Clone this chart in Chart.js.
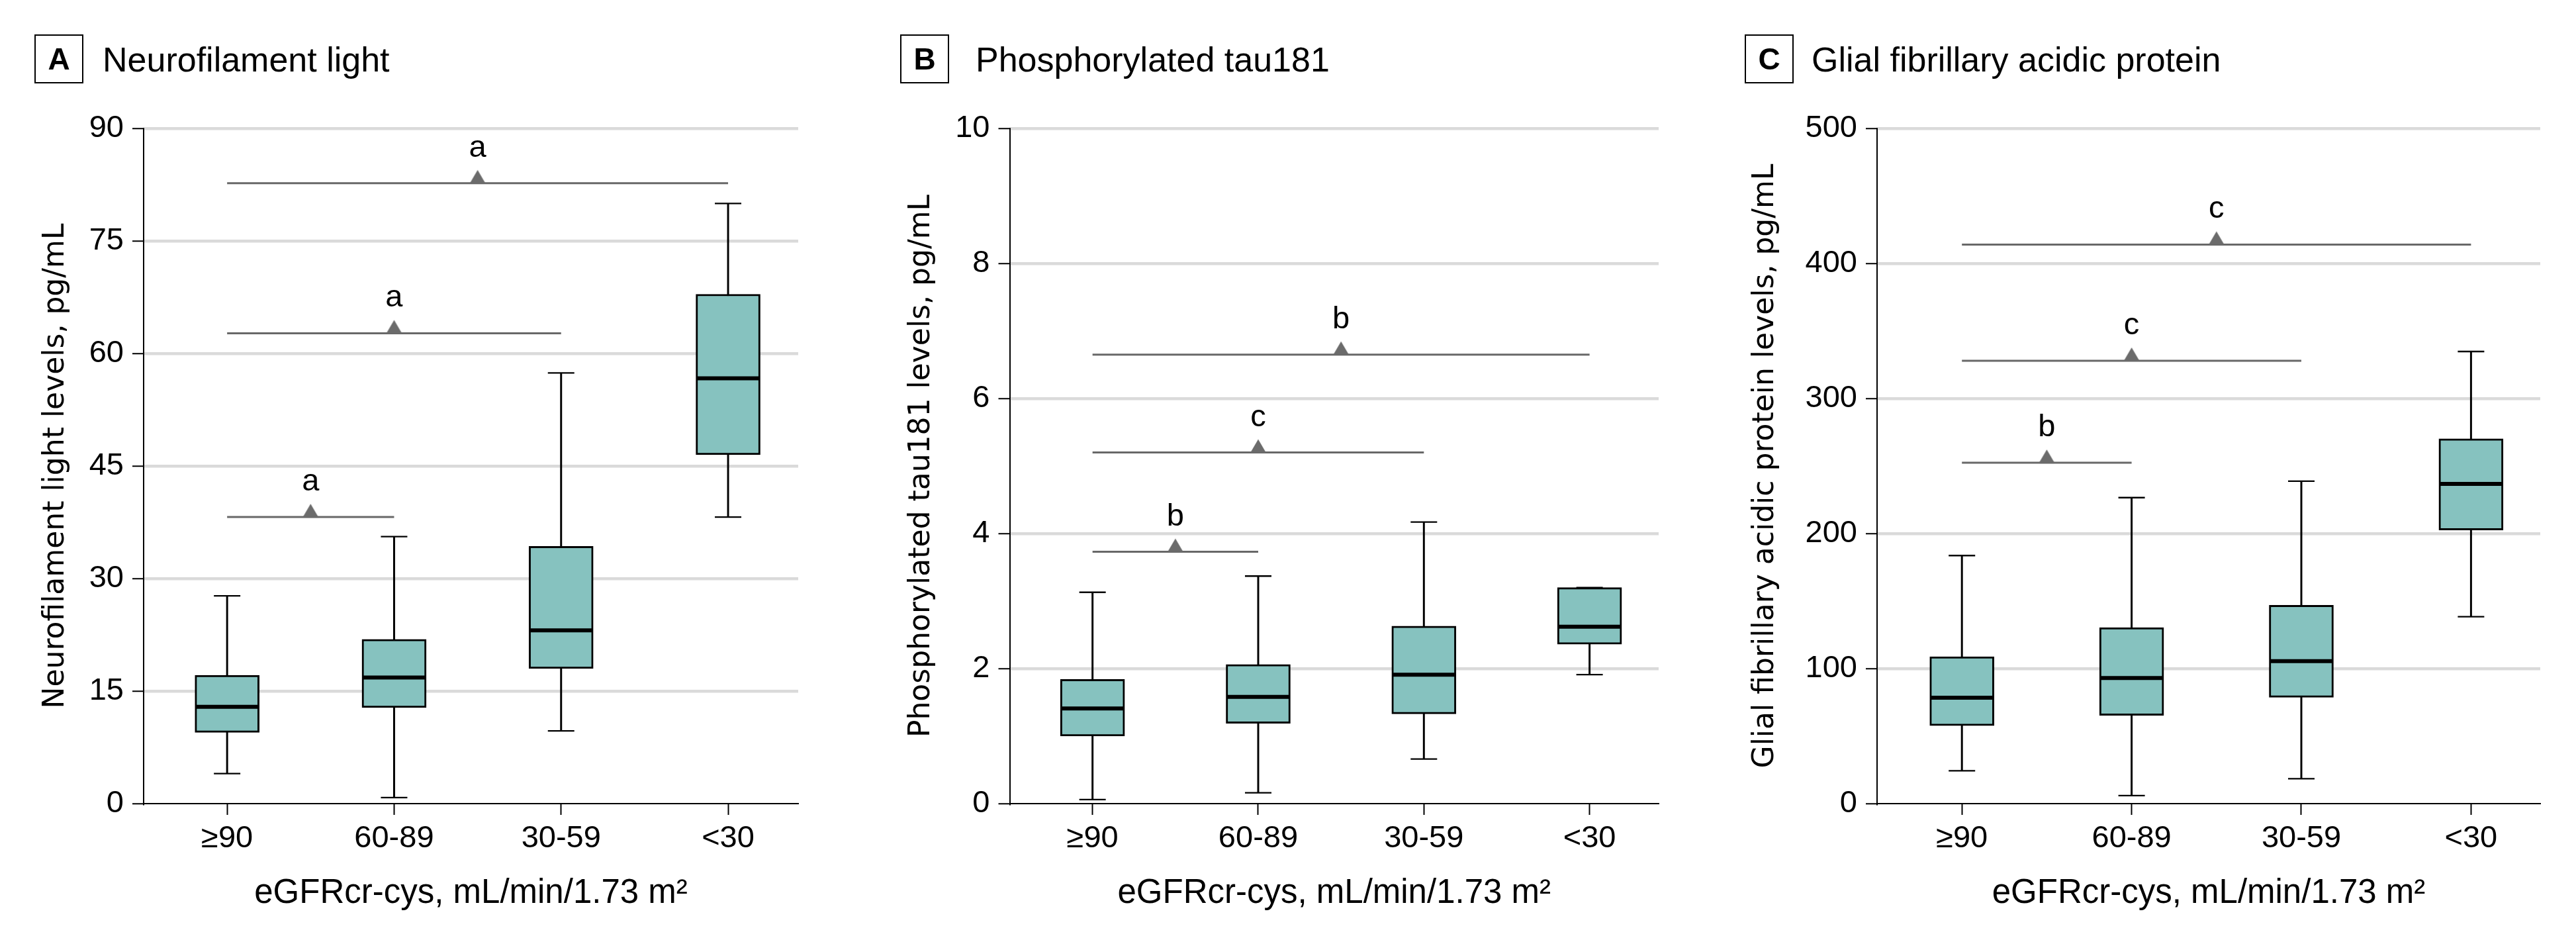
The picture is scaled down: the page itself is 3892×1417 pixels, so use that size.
<!DOCTYPE html>
<html>
<head>
<meta charset="utf-8">
<script src="https://cdn.jsdelivr.net/npm/chart.js@4.4.1/dist/chart.umd.min.js"></script>
<style>
 body{margin:0;background:#fff}
 #fig{position:relative;width:3892px;height:1417px;background:#fff;overflow:hidden}
 canvas{position:absolute;top:0}
 .tag{position:absolute;top:52px;width:70px;height:70px;border:2px solid #000;
  font:bold 46px "Liberation Sans",Arial,sans-serif;line-height:46px;
  display:flex;align-items:center;justify-content:center;color:#000}
 .ttl{position:absolute;top:64px;font:52px "Liberation Sans",Arial,sans-serif;line-height:52px;color:#000;white-space:nowrap}
</style>
</head>
<body>
<div id="fig">
 <canvas id="cA" width="1260" height="1417" style="left:0px"></canvas>
 <canvas id="cB" width="1260" height="1417" style="left:1300px"></canvas>
 <canvas id="cC" width="1292" height="1417" style="left:2600px"></canvas>
 <div class="tag" style="left:52px">A</div><div class="ttl" style="left:155px">Neurofilament light</div>
 <div class="tag" style="left:1360px">B</div><div class="ttl" style="left:1474px">Phosphorylated tau181</div>
 <div class="tag" style="left:2636px">C</div><div class="ttl" style="left:2737px">Glial fibrillary acidic protein</div>
</div>
<script>
// eGFR groups (x axis)
const groups = ['≥90', '60-89', '30-59', '<30'];
const xTitle = 'eGFRcr-cys, mL/min/1.73 m²';

// A - neurofilament light, pg/mL
const nflLow  = [4.0, 0.8, 9.7, 38.2];
const nflQ1   = [9.5, 12.8, 18.0, 46.5];
const nflMed  = [12.9, 16.8, 23.1, 56.7];
const nflQ3   = [17.1, 21.9, 34.3, 67.9];
const nflHigh = [27.7, 35.6, 57.4, 80.0];
const nflTicks = [0, 15, 30, 45, 60, 75, 90];
const nflSig = [38.2, 62.7, 82.7];
const nflSigMark = ['a', 'a', 'a'];

// B - phosphorylated tau181, pg/mL
const ptauLow  = [0.06, 0.16, 0.66, 1.91];
const ptauQ1   = [1.00, 1.19, 1.33, 2.36];
const ptauMed  = [1.41, 1.58, 1.91, 2.62];
const ptauQ3   = [1.84, 2.06, 2.63, 3.20];
const ptauHigh = [3.13, 3.37, 4.17, 3.20];
const ptauTicks = [0, 2, 4, 6, 8, 10];
const ptauSig = [3.73, 5.20, 6.65];
const ptauSigMark = ['b', 'c', 'b'];

// C - GFAP, pg/mL
const gfapLow  = [24.3, 5.9, 18.4, 138.4];
const gfapQ1   = [57.7, 65.4, 78.7, 202.6];
const gfapMed  = [78.4, 93.0, 105.5, 236.8];
const gfapQ3   = [108.8, 130.3, 146.9, 270.2];
const gfapHigh = [183.7, 226.6, 238.8, 334.8];
const gfapTicks = [0, 100, 200, 300, 400, 500];
const gfapSig = [252.4, 328, 414];
const gfapSigMark = ['b', 'c', 'c'];

// each bracket runs from the ≥90 group to group sigTo[i]
const sigTo = [1, 2, 3];

Chart.defaults.font.family = '"Liberation Sans", Arial, sans-serif';
Chart.defaults.color = '#000';

// triangle marker whose base sits on the point
const tri = document.createElement('canvas');
tri.width = 28; tri.height = 42;
(function(){
  const c = tri.getContext('2d');
  c.fillStyle = '#6b6b6b';
  c.beginPath(); c.moveTo(14, 1); c.lineTo(26, 21.5); c.lineTo(2, 21.5); c.closePath(); c.fill();
})();

const sigLabels = {
  id: 'sigLabels',
  afterDatasetsDraw(chart, args, o) {
    const {ctx, scales: {x, y}} = chart;
    ctx.save();
    ctx.font = '47px "Liberation Sans", Arial, sans-serif';
    ctx.fillStyle = '#000';
    ctx.textAlign = 'center';
    ctx.textBaseline = 'alphabetic';
    o.levels.forEach((v, i) => {
      ctx.fillText(o.marks[i], x.getPixelForValue(o.to[i] / 2), y.getPixelForValue(v) - 40);
    });
    ctx.restore();
  }
};

function pts(vals){ return vals.map((v, i) => ({x: i, y: v})); }

function panel(id, d) {
  const ds = [
    {type: 'bar', data: groups.map((g, i) => ({x: i, y: [d.low[i], d.high[i]]})),
     backgroundColor: '#000', barThickness: 2.3, grouped: false, order: 6},
    {type: 'bar', data: groups.map((g, i) => ({x: i, y: [d.q1[i], d.q3[i]]})),
     backgroundColor: '#86c2bf', borderColor: '#000', borderWidth: 3, borderSkipped: false,
     barThickness: 97, grouped: false, order: 5},
    {type: 'scatter', data: pts(d.med), pointStyle: 'line', pointRadius: 48, pointHoverRadius: 48,
     pointBorderWidth: 6, pointBorderColor: '#000', order: 4},
    {type: 'scatter', data: pts(d.high), pointStyle: 'line', pointRadius: 20, pointHoverRadius: 20,
     pointBorderWidth: 2.3, pointBorderColor: '#000', order: 4},
    {type: 'scatter', data: pts(d.low), pointStyle: 'line', pointRadius: 20, pointHoverRadius: 20,
     pointBorderWidth: 2.3, pointBorderColor: '#000', order: 4}
  ];
  d.sig.forEach((v, i) => {
    ds.push({type: 'line', data: [{x: 0, y: v}, {x: sigTo[i], y: v}], borderColor: '#686868',
      borderWidth: 3, pointRadius: 0, pointHoverRadius: 0, fill: false, order: 3});
    ds.push({type: 'scatter', data: [{x: sigTo[i] / 2, y: v}], pointStyle: tri, pointRadius: 14, order: 2});
  });
  const top = d.ticks[d.ticks.length - 1];
  return new Chart(document.getElementById(id), {
    type: 'bar',
    data: {datasets: ds},
    options: {
      responsive: false, animation: false, events: [],
      layout: {padding: {left: 20, right: d.padR, top: 194, bottom: 20}},
      plugins: {legend: {display: false}, tooltip: {enabled: false},
        sigLabels: {levels: d.sig, marks: d.marks, to: sigTo}},
      scales: {
        x: {
          type: 'linear', min: -0.5, max: d.xMax, offset: false,
          afterBuildTicks: s => { s.ticks = groups.map((g, i) => ({value: i})); },
          ticks: {callback: v => groups[v], font: {size: 47}, padding: 8, autoSkip: false, maxRotation: 0},
          grid: {offset: false, drawOnChartArea: false, tickLength: 17, tickWidth: 2, tickColor: '#000', color: '#000'},
          border: {color: '#000', width: 2},
          title: {display: true, text: xTitle, font: {size: 51}, padding: {top: 0, bottom: 16}},
          afterFit: s => { s.height = 183; }
        },
        y: {
          min: 0, max: top,
          afterBuildTicks: s => { s.ticks = d.ticks.map(v => ({value: v})); },
          ticks: {font: {size: 47}, padding: 13},
          grid: {color: c => (c.tick && c.tick.value === 0) ? 'rgba(0,0,0,0)' : '#dadada',
                 lineWidth: 4.5, tickLength: 17, tickWidth: 2, tickColor: '#000'},
          border: {color: '#000', width: 2},
          title: {display: true, text: d.yTitle, font: {family: '"DejaVu Sans", sans-serif', size: 44},
                  padding: {top: d.padT, bottom: 0}},
          afterFit: s => { s.width = d.yW; }
        }
      }
    },
    plugins: [sigLabels]
  });
}

panel('cA', {low: nflLow, q1: nflQ1, med: nflMed, q3: nflQ3, high: nflHigh, ticks: nflTicks,
  sig: nflSig, marks: nflSigMark, yTitle: 'Neurofilament light levels, pg/mL',
  yW: 197, padR: 29, xMax: 3.42, padT: 38});
panel('cB', {low: ptauLow, q1: ptauQ1, med: ptauMed, q3: ptauQ3, high: ptauHigh, ticks: ptauTicks,
  sig: ptauSig, marks: ptauSigMark, yTitle: 'Phosphorylated tau181 levels, pg/mL',
  yW: 205.5, padR: 20, xMax: 3.417, padT: 46.6});
panel('cC', {low: gfapLow, q1: gfapQ1, med: gfapMed, q3: gfapQ3, high: gfapHigh, ticks: gfapTicks,
  sig: gfapSig, marks: gfapSigMark, yTitle: 'Glial fibrillary acidic protein levels, pg/mL',
  yW: 216, padR: 36, xMax: 3.408, padT: 21.6});
</script>
</body>
</html>
